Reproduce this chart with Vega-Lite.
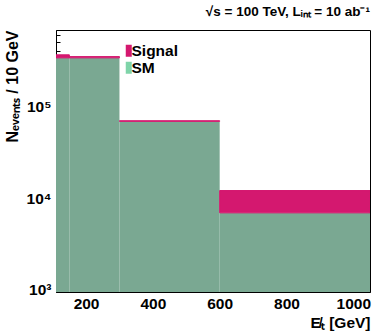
{
  "$schema": "https://vega.github.io/schema/vega-lite/v6.json",
  "autosize": "none",
  "width": 314,
  "height": 262,
  "padding": {"left": 56, "top": 30, "right": 4, "bottom": 43},
  "background": "white",
  "config": {
    "view": {"stroke": "black", "strokeWidth": 1},
    "font": "Liberation Sans",
    "axis": {"grid": false, "zindex": 1, "domainColor": "black", "tickColor": "black", "labelColor": "black", "titleColor": "black", "labelFont": "Liberation Sans", "titleFont": "Liberation Sans", "labelFontWeight": "bold", "titleFontWeight": "bold", "labelFontSize": 15.5, "titleFontSize": 15.5, "labelFlush": false, "labelOverlap": false}
  },
  "title": {"text": "√s = 100 TeV,  Lᵢₙₜ = 10 ab⁻¹", "anchor": "end", "frame": "group", "font": "Liberation Sans", "fontWeight": "bold", "fontSize": 13.5, "color": "black", "offset": 9},
  "data": {"values": [
    {"xlo": 110, "xhi": 150, "process": "SM", "n": 338000},
    {"xlo": 110, "xhi": 150, "process": "Signal", "n": 27000},
    {"xlo": 150, "xhi": 300, "process": "SM", "n": 338000},
    {"xlo": 150, "xhi": 300, "process": "Signal", "n": 11000},
    {"xlo": 300, "xhi": 600, "process": "SM", "n": 68700},
    {"xlo": 300, "xhi": 600, "process": "Signal", "n": 1100},
    {"xlo": 600, "xhi": 1050, "process": "SM", "n": 6920},
    {"xlo": 600, "xhi": 1050, "process": "Signal", "n": 5200}
  ]},
  "transform": [
    {"stack": "n", "groupby": ["xlo"], "sort": [{"field": "process", "order": "ascending"}], "as": ["n0", "n1"]}
  ],
  "layer": [
    {
      "transform": [{"filter": "datum.process === 'SM'"}],
      "mark": {"type": "bar", "clip": true, "fill": "#7aa892", "strokeWidth": 0},
      "encoding": {
        "x": {"field": "xlo", "type": "quantitative", "scale": {"domain": [110, 1050], "nice": false, "zero": false},
          "axis": {"orient": "bottom", "values": [200, 300, 400, 500, 600, 700, 800, 900, 1000], "format": "d", "tickSize": -8, "tickColor": "#a3cdb7", "labelPadding": 12, "title": "E̸ₜ [GeV]", "titleAnchor": "end", "titleAlign": "right", "titlePadding": 4}},
        "x2": {"field": "xhi"},
        "y": {"field": "n1", "type": "quantitative", "scale": {"type": "log", "domain": [950, 680000], "nice": false},
          "axis": {"orient": "left", "labelOverlap": false, "labelBound": false,
            "values": [1000,2000,3000,4000,5000,6000,7000,8000,9000,10000,20000,30000,40000,50000,60000,70000,80000,90000,100000,200000,300000,400000,500000,600000],
            "tickSize": {"condition": {"test": "indexof([1000,10000,100000], datum.value) >= 0", "value": -8}, "value": -4},
            "tickColor": {"condition": {"test": "datum.value >= 350000", "value": "black"}, "value": "#a3cdb7"},
            "labelPadding": 13,
            "labelExpr": "indexof([1000,10000,100000], datum.value) >= 0 ? '10' + ['⁰','¹','²','³','⁴','⁵','⁶'][round(log(datum.value)/LN10)] : ''",
            "title": "Nₑᵥₑₙₜₛ / 10 GeV", "titleFontSize": 16, "titleAnchor": "end", "titlePadding": 6}},
        "y2": {"datum": 950}
      }
    },
    {
      "transform": [{"filter": "datum.process === 'Signal'"}],
      "mark": {"type": "bar", "clip": true, "fill": "#d4186f", "stroke": "#d4186f", "strokeWidth": 1},
      "encoding": {
        "x": {"field": "xlo", "type": "quantitative"},
        "x2": {"field": "xhi"},
        "y": {"field": "n1", "type": "quantitative"},
        "y2": {"field": "n0"}
      }
    },
    {
      "mark": {"type": "square", "opacity": 0, "size": 1},
      "encoding": {
        "x": {"field": "xlo", "type": "quantitative"},
        "y": {"field": "n1", "type": "quantitative"},
        "color": {"field": "process", "type": "nominal", "scale": {"domain": ["Signal", "SM"], "range": ["#d4186f", "#7fd4a9"]},
          "legend": {"orient": "none", "legendX": 65, "legendY": 13, "padding": 0, "title": null, "symbolType": "M-0.5,-1H0.5V1H-0.5Z", "symbolSize": 144, "symbolOpacity": 1, "symbolStrokeWidth": 0, "labelFont": "Liberation Sans", "labelFontWeight": "bold", "labelFontSize": 15.5, "labelColor": "black", "labelOffset": -5, "rowPadding": -6}}
      }
    }
  ]
}
